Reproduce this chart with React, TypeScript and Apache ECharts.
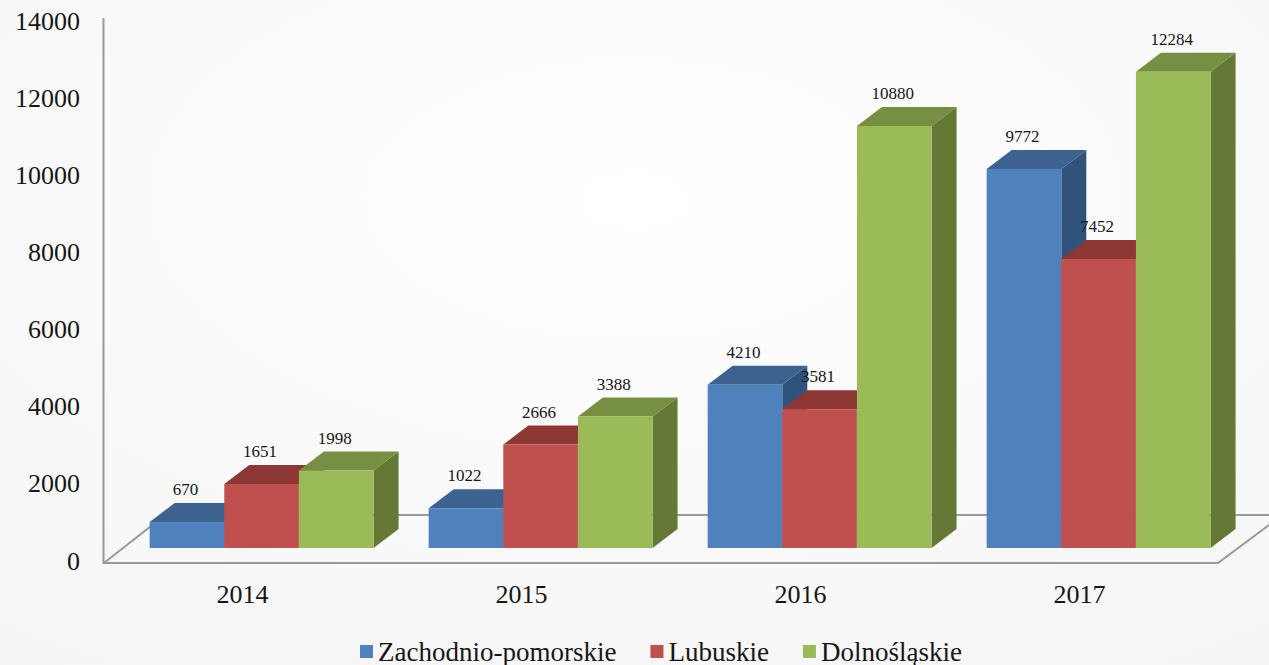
import React, { useEffect, useRef } from "react";
import * as echarts from "echarts";

const years = ["2014", "2015", "2016", "2017"];
const zachodnioPomorskie = [670, 1022, 4210, 9772];
const lubuskie = [1651, 2666, 3581, 7452];
const dolnoslaskie = [1998, 3388, 10880, 12284];
const yTicksMax = 14000;
const yTickStep = 2000;

const FONT = '"Liberation Serif", "Times New Roman", serif';
const INK = "#161616";
const DEPTH_X = 25;
const DEPTH_Y = 19;
const FRONT_LIFT = 13;
const BAR_SCALE = 1.0054;
const BAR_BAND = 0.2675;
const GROUP_SHIFT = 0.0685;

function barRenderer(offset: number, front: string, top: string, side: string) {
  return (_params: any, api: any) => {
    const i = api.value(0);
    const v = api.value(1);
    const [cx, y0] = api.coord([i, 0]);
    const [, yv] = api.coord([i, v]);
    const band = api.size([1, 0])[0];
    const w = band * BAR_BAND;
    const x0 = cx + band * GROUP_SHIFT + (offset - 0.5) * w;
    const x1 = x0 + w;
    const bottom = y0 - FRONT_LIFT;
    const topY = bottom - (y0 - yv) * BAR_SCALE;
    return {
      type: "group",
      children: [
        {
          type: "polygon",
          shape: { points: [[x1, topY], [x1 + DEPTH_X, topY - DEPTH_Y], [x1 + DEPTH_X, bottom - DEPTH_Y], [x1, bottom]] },
          style: { fill: side },
        },
        {
          type: "polygon",
          shape: { points: [[x0, topY], [x0 + DEPTH_X, topY - DEPTH_Y], [x1 + DEPTH_X, topY - DEPTH_Y], [x1, topY]] },
          style: { fill: top },
        },
        {
          type: "rect",
          shape: { x: x0, y: topY, width: w, height: bottom - topY },
          style: { fill: front },
        },
        {
          type: "text",
          x: (x0 + x1) / 2 - 1.5,
          y: topY - DEPTH_Y - 13.5,
          style: { text: String(v), font: `17px ${FONT}`, fill: INK, align: "center", verticalAlign: "middle" },
        },
      ],
    };
  };
}

function toData(values: number[]) {
  return values.map((v, i) => [i, v]);
}

export default function App() {
  const ref = useRef<HTMLDivElement>(null);
  useEffect(() => {
    const chart = echarts.init(ref.current!, null, { renderer: "svg" });
    const frameLine = { stroke: "#9a9a9a", lineWidth: 2, fill: "none" };
    chart.setOption({
      animation: false,
      backgroundColor: {
        type: "radial",
        x: 0.5,
        y: 0.3,
        r: 0.85,
        colorStops: [
          { offset: 0, color: "#ffffff" },
          { offset: 1, color: "#f5f5f5" },
        ],
      },
      grid: { left: 103, width: 1116, top: 21, height: 540 },
      legend: {
        left: 360,
        top: 638,
        padding: 0,
        icon: "rect",
        itemWidth: 13,
        itemHeight: 13,
        itemGap: 34,
        textStyle: { fontFamily: FONT, fontSize: 27, color: INK },
        data: ["Zachodnio-pomorskie", "Lubuskie", "Dolnośląskie"],
      },
      xAxis: {
        type: "category",
        data: years,
        axisLine: { show: false },
        axisTick: { show: false },
        axisLabel: { fontFamily: FONT, fontSize: 26, color: INK, margin: 20 },
      },
      yAxis: {
        type: "value",
        min: 0,
        max: yTicksMax,
        interval: yTickStep,
        axisLine: { show: false },
        axisTick: { show: false },
        splitLine: { show: false },
        axisLabel: { fontFamily: FONT, fontSize: 26, color: INK, margin: 23, formatter: (v: number) => String(v) },
      },
      graphic: [
        { type: "polyline", z: -1, shape: { points: [[103.5, 18], [103.5, 563], [1218, 563], [1269, 525]] }, style: frameLine },
        { type: "polyline", z: -1, shape: { points: [[104, 563], [165, 515], [1269, 515]] }, style: frameLine },
      ],
      series: [
        {
          name: "Zachodnio-pomorskie",
          type: "custom",
          itemStyle: { color: "#4f81bd" },
          encode: { x: 0, y: 1 },
          data: toData(zachodnioPomorskie),
          renderItem: barRenderer(-1, "#4f81bd", "#3c6290", "#30537c"),
        },
        {
          name: "Lubuskie",
          type: "custom",
          itemStyle: { color: "#c0504d" },
          encode: { x: 0, y: 1 },
          data: toData(lubuskie),
          renderItem: barRenderer(0, "#c0504d", "#8e3836", "#7a2e2c"),
        },
        {
          name: "Dolnośląskie",
          type: "custom",
          itemStyle: { color: "#9bbb59" },
          encode: { x: 0, y: 1 },
          data: toData(dolnoslaskie),
          renderItem: barRenderer(1, "#9bbb59", "#778f42", "#637935"),
        },
      ],
    });
    return () => chart.dispose();
  }, []);
  return <div ref={ref} style={{ position: "absolute", left: 0, top: 0, width: 1269, height: 665 }} />;
}
